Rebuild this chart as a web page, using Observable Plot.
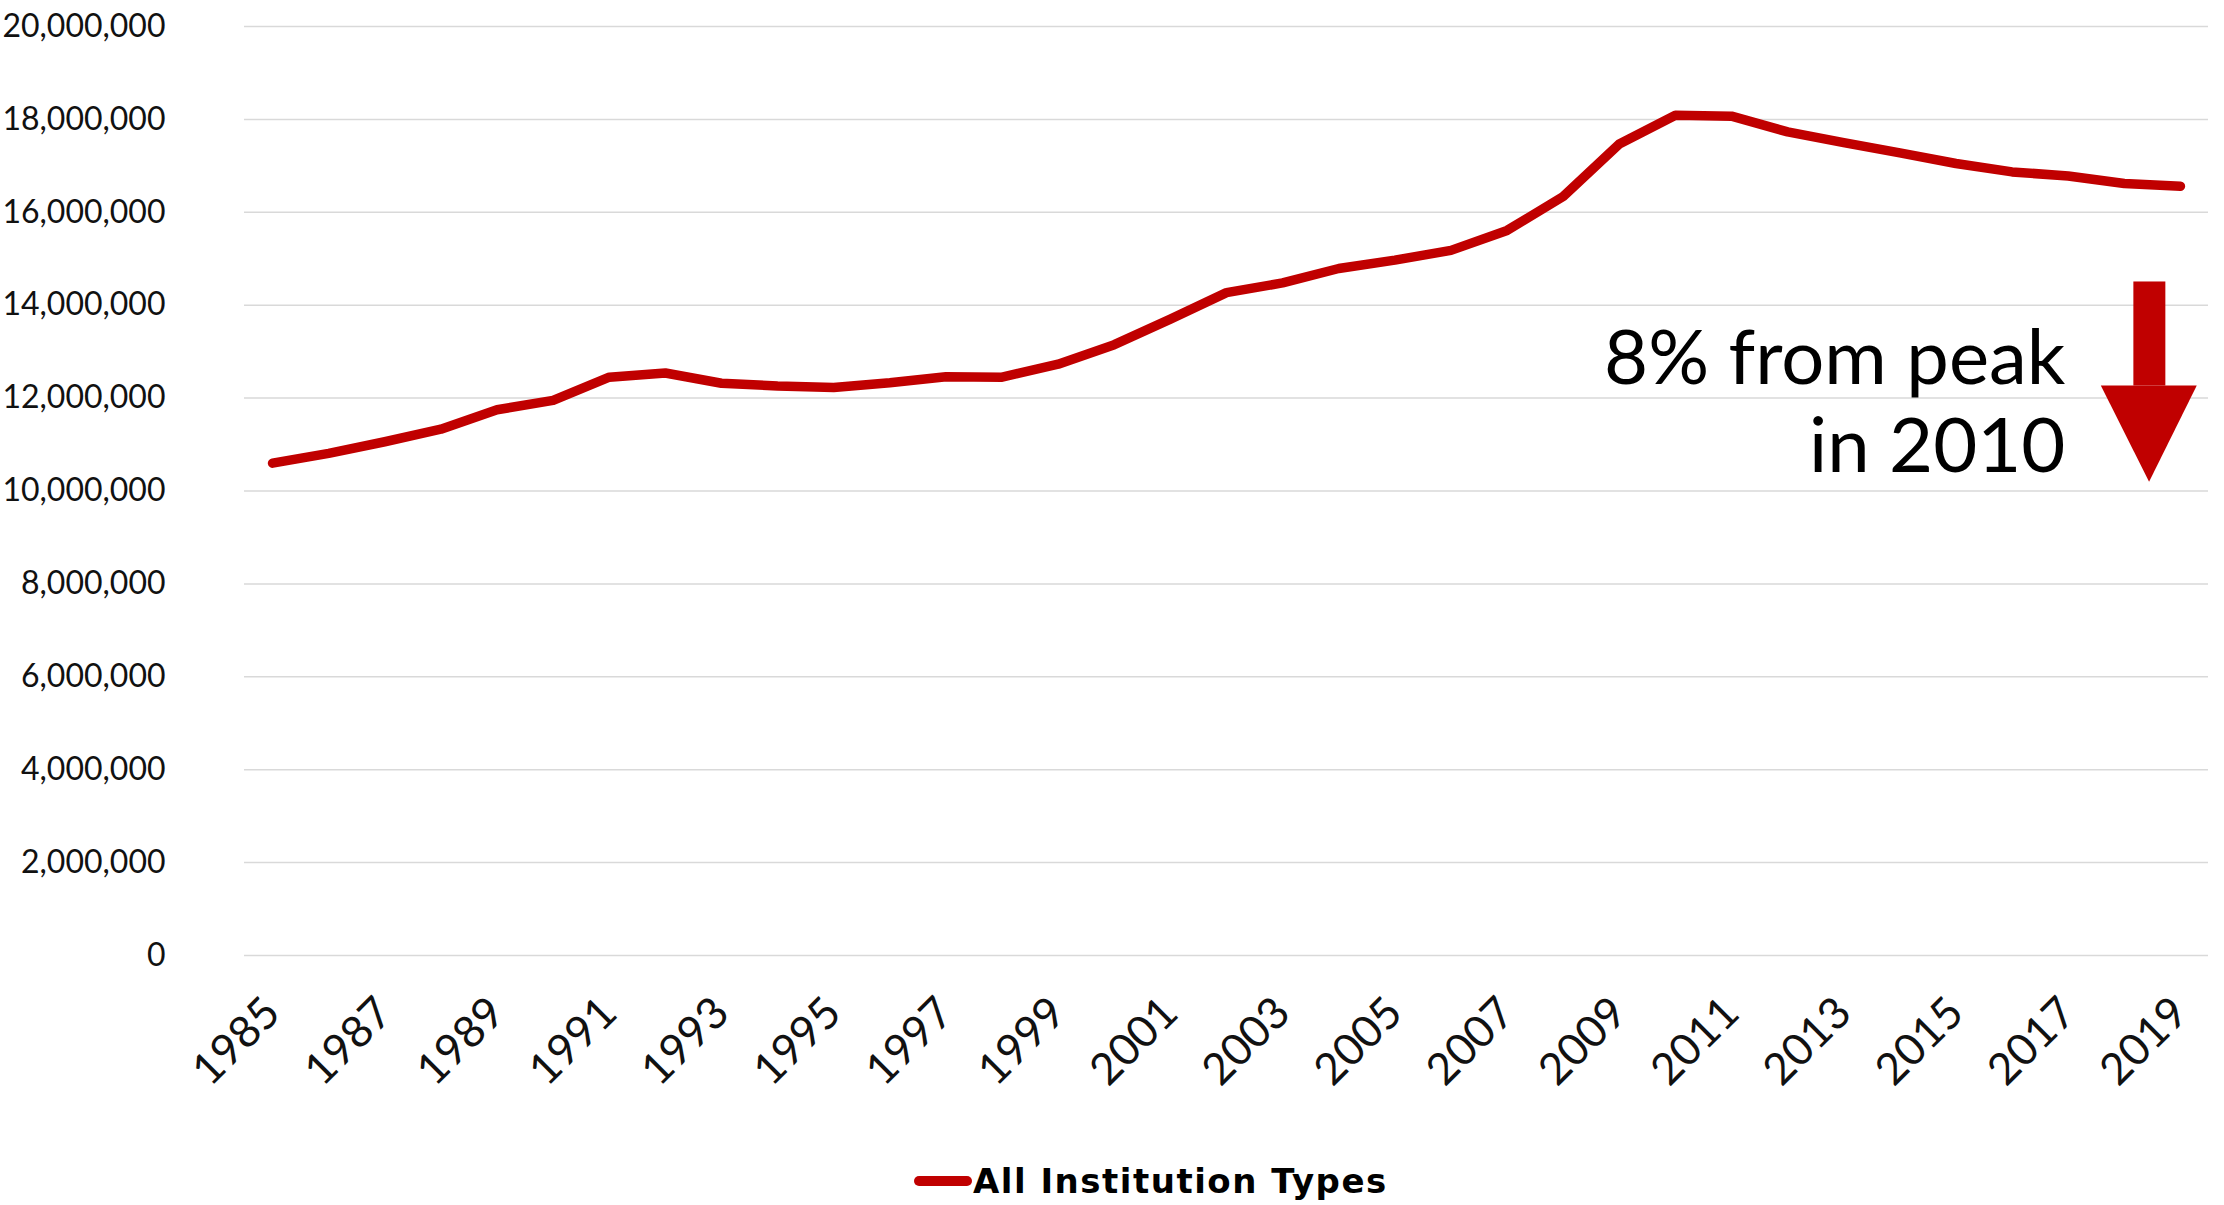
<!DOCTYPE html>
<html>
<head>
<meta charset="utf-8">
<script src="https://cdn.jsdelivr.net/npm/d3@7"></script>
<script src="https://cdn.jsdelivr.net/npm/@observablehq/plot@0.6"></script>
<style>
  html, body { margin: 0; padding: 0; background: #fff; }
  body { font-family: Lato, "Noto Sans", sans-serif; width: 2224px; height: 1205px; overflow: hidden; }
  #legend { display: flex; align-items: center; margin-left: 914px; height: 60px; margin-top: 41px; }
  #legend .swatch { width: 58px; height: 10px; border-radius: 5px; background: #C00000; }
  #legend .label { font-family: "DejaVu Sans", sans-serif; font-weight: 700; font-size: 34px; letter-spacing: 1.5px; color: #000; margin-left: 1px; }
</style>
</head>
<body>
<div id="chart"></div>
<div id="legend"><span class="swatch"></span><span class="label" id="legendLabel"></span></div>
<script>
// ---- data ----
const years = [1985,1986,1987,1988,1989,1990,1991,1992,1993,1994,1995,1996,1997,1998,1999,2000,2001,2002,2003,2004,2005,2006,2007,2008,2009,2010,2011,2012,2013,2014,2015,2016,2017,2018,2019];
const enrollment = [10600000,10810000,11060000,11330000,11750000,11950000,12450000,12540000,12320000,12260000,12230000,12330000,12460000,12450000,12730000,13150000,13700000,14270000,14480000,14790000,14970000,15180000,15610000,16340000,17470000,18090000,18070000,17730000,17500000,17280000,17050000,16870000,16780000,16620000,16560000];
const xTickYears = [1985,1987,1989,1991,1993,1995,1997,1999,2001,2003,2005,2007,2009,2011,2013,2015,2017,2019];
const yTickValues = [0,2000000,4000000,6000000,8000000,10000000,12000000,14000000,16000000,18000000,20000000];
const seriesName = "All Institution Types";
const annotationText = "8% from peak\nin 2010";

const table = years.map((year, i) => ({year, value: enrollment[i]}));
document.getElementById("legendLabel").textContent = seriesName;

const red = "#C00000";

const chart = Plot.plot({
  width: 2224,
  height: 1110,
  marginTop: 26,
  marginBottom: 155,
  marginLeft: 244,
  marginRight: 16,
  style: {fontFamily: "Lato, 'Noto Sans', sans-serif", fontSize: "32px", color: "#111", background: "#fff"},
  x: {domain: [1984.5, 2019.5]},
  y: {domain: [0, 20000000]},
  marks: [
    Plot.gridY(yTickValues, {stroke: "#d9d9d9", strokeOpacity: 1, strokeWidth: 1.5}),
    Plot.axisY({ticks: yTickValues, tickFormat: d3.format(","), tickSize: 0, tickPadding: 79, fontSize: 32, label: null}),
    Plot.axisX({ticks: xTickYears, tickFormat: d => String(d), tickRotate: -45, tickSize: 0, tickPadding: 50, fontSize: 44, label: null}),
    Plot.line(table, {x: "year", y: "value", stroke: red, strokeWidth: 9.5, strokeLinecap: "round", strokeLinejoin: "round"}),
    // annotation arrow (shaft + head), in data coordinates
    Plot.rect([{x1: 2018.17, x2: 2018.74, y1: 12260000, y2: 14500000}], {x1: "x1", x2: "x2", y1: "y1", y2: "y2", fill: red}),
    Plot.areaY([
      {x: 2017.59, y1: 12260000, y2: 12260000},
      {x: 2018.45, y1: 12260000, y2: 10190000},
      {x: 2019.30, y1: 12260000, y2: 12260000}
    ], {x: "x", y1: "y1", y2: "y2", fill: red, curve: "linear"}),
    Plot.text([{x: 2016.95, y: 11960000, t: annotationText}], {x: "x", y: "y", text: "t", textAnchor: "end", lineAnchor: "middle", fontSize: 76, lineHeight: 1.16, fill: "#000"})
  ]
});
document.getElementById("chart").appendChild(chart);
</script>
</body>
</html>
